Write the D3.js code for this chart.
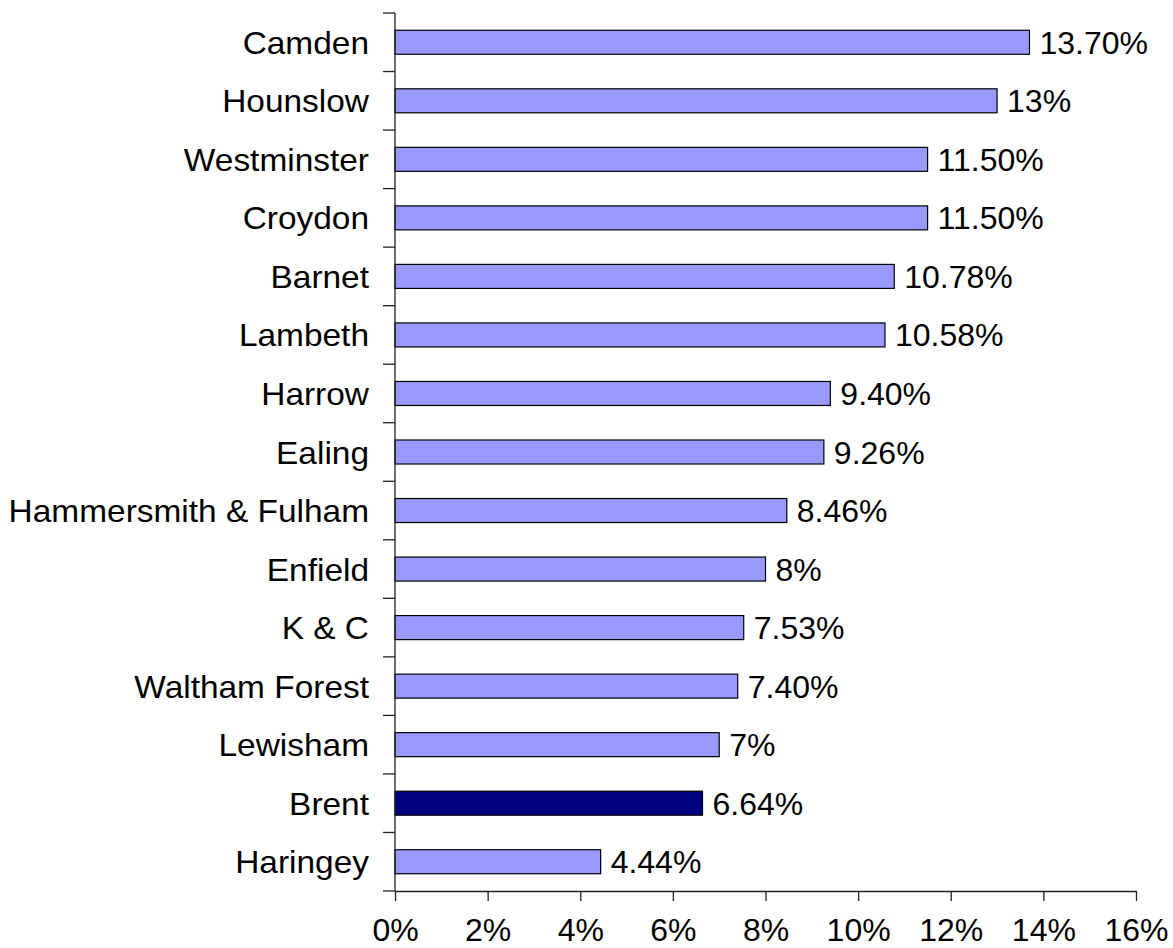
<!DOCTYPE html>
<html>
<head>
<meta charset="utf-8">
<script src="https://cdn.jsdelivr.net/npm/d3@7"></script>
<style>
  body { margin: 0; background: #fff; }
  svg { display: block; font-family: Arial, "Liberation Sans", sans-serif; }
</style>
</head>
<body>
<svg id="bar_svg" width="1173" height="948"></svg>
<script>
const boroughs = ["Camden", "Hounslow", "Westminster", "Croydon", "Barnet", "Lambeth", "Harrow",
  "Ealing", "Hammersmith & Fulham", "Enfield", "K & C", "Waltham Forest", "Lewisham", "Brent", "Haringey"];
const values = [13.70, 13, 11.50, 11.50, 10.78, 10.58, 9.40, 9.26, 8.46, 8, 7.53, 7.40, 7, 6.64, 4.44];
const valueLabels = ["13.70%", "13%", "11.50%", "11.50%", "10.78%", "10.58%", "9.40%", "9.26%",
  "8.46%", "8%", "7.53%", "7.40%", "7%", "6.64%", "4.44%"];
const xTicks = [0, 2, 4, 6, 8, 10, 12, 14, 16];
const highlight = "Brent";

const data = boroughs.map((b, i) => ({ name: b, value: values[i], label: valueLabels[i] }));

const margin = { top: 13, bottom: 57, left: 395, right: 37 };
const svg = d3.select("#bar_svg");
const width = +svg.attr("width");
const height = +svg.attr("height");

const xScale = d3.scaleLinear()
  .domain([0, 16])
  .range([margin.left, width - margin.right]);

const yScale = d3.scaleBand()
  .domain(boroughs)
  .range([margin.top, height - margin.bottom])
  .paddingInner(0.59)
  .paddingOuter(0.295);

// bars
svg.append("g")
  .selectAll("rect")
  .data(data)
  .enter()
  .append("rect")
  .attr("x", xScale(0))
  .attr("y", d => yScale(d.name))
  .attr("width", d => xScale(d.value) - xScale(0))
  .attr("height", yScale.bandwidth())
  .attr("fill", d => d.name === highlight ? "#000080" : "#9999ff")
  .attr("stroke", "#000")
  .attr("stroke-width", 1.2);

// value labels
svg.append("g")
  .selectAll("text")
  .data(data)
  .enter()
  .append("text")
  .attr("x", d => xScale(d.value) + 10)
  .attr("y", d => yScale(d.name) + yScale.bandwidth() / 2)
  .attr("dy", "0.36em")
  .attr("font-size", 32)
  .attr("fill", "#000")
  .text(d => d.label);

// y axis: ticks at category boundaries
const g_y = svg.append("g");
const bounds = boroughs.map(b => yScale(b) - yScale.step() * yScale.paddingInner() / 2);
bounds.push(height - margin.bottom);
g_y.append("line")
  .attr("x1", margin.left).attr("x2", margin.left)
  .attr("y1", margin.top).attr("y2", height - margin.bottom)
  .attr("stroke", "#222").attr("stroke-width", 1.3);
g_y.selectAll(".ytick")
  .data(bounds)
  .enter()
  .append("line")
  .attr("x1", margin.left - 12).attr("x2", margin.left)
  .attr("y1", d => d).attr("y2", d => d)
  .attr("stroke", "#222").attr("stroke-width", 1.3);
g_y.selectAll("text")
  .data(boroughs)
  .enter()
  .append("text")
  .attr("transform", d => `translate(${margin.left - 26}, ${yScale(d) + yScale.bandwidth() / 2}) scale(1.045, 1)`)
  .attr("dy", "0.36em")
  .attr("text-anchor", "end")
  .attr("font-size", 32)
  .attr("fill", "#000")
  .text(d => d);

// x axis
const xAxis = d3.axisBottom(xScale)
  .tickValues(xTicks)
  .tickFormat(d => d + "%")
  .tickSize(10)
  .tickSizeOuter(0)
  .tickPadding(17);

const g_x = svg.append("g")
  .attr("transform", `translate(0, ${height - margin.bottom})`)
  .call(xAxis);
g_x.select(".domain").attr("stroke", "#222").attr("stroke-width", 1.3);
g_x.selectAll(".tick line").attr("stroke", "#222").attr("stroke-width", 1.3);
g_x.selectAll(".tick text")
  .attr("font-size", 32)
  .attr("font-family", "Arial, 'Liberation Sans', sans-serif")
  .attr("fill", "#000");
</script>
</body>
</html>
